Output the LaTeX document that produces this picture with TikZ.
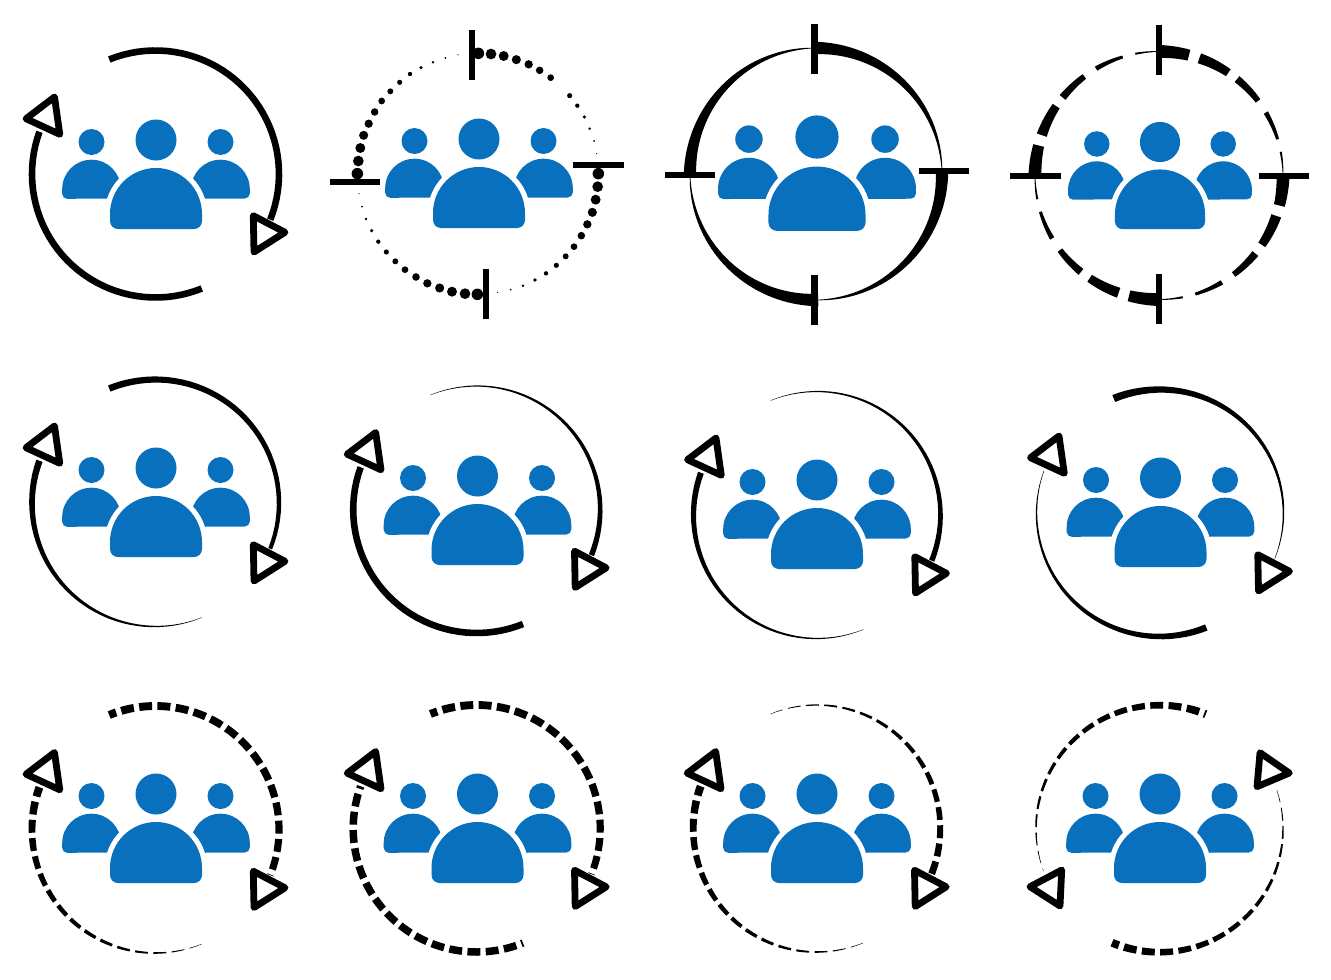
\documentclass[tikz,border=0pt]{standalone}
\definecolor{peopleblue}{HTML}{0870BC}
\tikzset{
  tickbar/.style={black,line width=6.6pt,line cap=butt},
  tribox/.style={draw=black,fill=white,line width=6.8pt,line join=round},
  bluefill/.style={fill=peopleblue,draw=none},
  halo/.style={draw=white,line width=10.4pt,fill=none}
}
% tapered arc around the current origin: R, a1, a2, w1, w2
\newcommand{\tarc}[6][40]{%
  \fill[black] plot[domain=#3:#4,samples=#1,variable=\t]
    ({(#2+((#5)+((#6)-(#5))*(\t-(#3))/((#4)-(#3)))/2)*cos(\t)},{(#2+((#5)+((#6)-(#5))*(\t-(#3))/((#4)-(#3)))/2)*sin(\t)})
    -- plot[domain=#4:#3,samples=#1,variable=\t]
    ({(#2-((#5)+((#6)-(#5))*(\t-(#3))/((#4)-(#3)))/2)*cos(\t)},{(#2-((#5)+((#6)-(#5))*(\t-(#3))/((#4)-(#3)))/2)*sin(\t)})
    -- cycle;%
}
% dashed tapered arc: R,a1,a2,w1,w2,period,dash,phase
\newcommand{\darc}[8]{%
  \pgfmathsetmacro{\dtot}{abs((#3)-(#2))}%
  \pgfmathsetmacro{\ddir}{((#3)>(#2))?1:-1}%
  \foreach \i in {0,...,40}{%
    \pgfmathsetmacro{\tA}{max(\i*#6-(#8),0)}%
    \pgfmathsetmacro{\tB}{min(\i*#6-(#8)+#7,\dtot)}%
    \pgfmathparse{(\tA<\tB-0.05)?1:0}%
    \ifnum\pgfmathresult=1
      \pgfmathsetmacro{\aA}{(#2)+\ddir*\tA}%
      \pgfmathsetmacro{\aB}{(#2)+\ddir*\tB}%
      \pgfmathsetmacro{\wA}{(#4)+((#5)-(#4))*\tA/\dtot}%
      \pgfmathsetmacro{\wB}{(#4)+((#5)-(#4))*\tB/\dtot}%
      \tarc[5]{#1}{\aA}{\aB}{\wA}{\wB}%
    \fi
  }%
}
% the three figures; head of the centre figure at hx,hy (pixels), scale s
\newcommand{\people}[3]{%
  \begin{scope}[shift={(#1,-#2)},scale=#3]
    \foreach \sx in {-64.5,64.5}{%
      \fill[bluefill] (\sx,-2) circle[radius=13];
      \fill[bluefill] (\sx-29.3,-49) arc[start angle=180,end angle=0,radius=29.3]
        -- (\sx+29.3,-53.5) arc[start angle=0,end angle=-90,radius=5]
        -- (\sx-24.3,-58.8) arc[start angle=270,end angle=180,radius=5] -- cycle;
    }
    \draw[halo] (-46,-74) arc[start angle=180,end angle=0,radius=46]
      -- (46,-81) arc[start angle=0,end angle=-90,radius=8]
      -- (-38,-89) arc[start angle=270,end angle=180,radius=8] -- cycle;
    \fill[bluefill] (0,0) circle[radius=20.5];
    \fill[bluefill] (-46,-74) arc[start angle=180,end angle=0,radius=46]
      -- (46,-81) arc[start angle=0,end angle=-90,radius=8]
      -- (-38,-89) arc[start angle=270,end angle=180,radius=8] -- cycle;
  \end{scope}%
}
\newcommand{\tris}{%
  \draw[tribox] (97.8,-41.7) -- (129.5,-58.3) -- (98.5,-78) -- cycle;
  \draw[tribox] (-101,77) -- (-129.5,55.3) -- (-95.7,39.7) -- cycle;
}
\newcommand{\solidicon}[6]{% cx,cy, top w1,w2, bottom w1,w2
  \begin{scope}[shift={(#1,-#2)}]
    \tarc{123.5}{112}{-21.7}{#3}{#4}
    \tarc{123.5}{-68}{-200}{#5}{#6}
    \tris
  \end{scope}%
}
\newcommand{\dashicon}[8]{% cx,cy, top w1,w2,phase, bottom w1,w2,phase
  \begin{scope}[shift={(#1,-#2)}]
    \darc{123.5}{112}{-21.7}{#3}{#4}{8.5}{6}{#5}
    \darc{123.5}{-68}{-200}{#6}{#7}{8.5}{6}{#8}
    \tris
  \end{scope}%
}
\begin{document}
\begin{tikzpicture}[x=1pt,y=1pt]
\useasboundingbox (0,0) rectangle (1331,-980);
\fill[white] (0,0) rectangle (1331,-980);

% ---- row 1 ----
\solidicon{155.5}{174}{6.6}{6.6}{6.6}{6.6}
\people{156}{140}{1}

% dotted target
\foreach \px/\py [count=\i from 0] in {475/100,513/102,551/108,589/119,626/133,659/151,692/173,749/227,772/257,793/291,809/326,822/363,830/401}{
  \pgfmathsetmacro{\dd}{11.5-10.3*(\i+(\i>6?1:0))/13}
  \fill[black] ({320+\px/3},{-20-\py/3}) circle[radius=\dd/2];
}
\foreach \px/\py [count=\i from 0] in {835/461,833/500,827/539,817/577,802/613,784/647,762/680,737/709,709/736,678/760,645/780,609/797,572/809,533/817}{
  \pgfmathsetmacro{\dd}{11.5-10.3*\i/13}
  \fill[black] ({320+\px/3},{-20-\py/3}) circle[radius=\dd/2];
}
\foreach \px/\py [count=\i from 0] in {472/823,435/821,396/815,359/804,322/790,288/771,255/749,226/724,199/696,175/665,155/632,138/597,126/560,117/521}{
  \pgfmathsetmacro{\dd}{11.5-10.3*\i/13}
  \fill[black] ({320+\px/3},{-20-\py/3}) circle[radius=\dd/2];
}
\foreach \px/\py [count=\i from 0] in {112/461,115/423,121/384,131/346,146/311,164/276,185/243,211/214,239/187,270/162,303/143,339/127,376/114,414/104}{
  \pgfmathsetmacro{\dd}{11.5-10.3*\i/13}
  \fill[black] ({320+\px/3},{-20-\py/3}) circle[radius=\dd/2];
}
\draw[tickbar] (472,-30) -- (472,-80);
\draw[tickbar] (330,-182) -- (380,-182);
\draw[tickbar] (573,-165) -- (624,-165);
\draw[tickbar] (486,-269) -- (486,-319);
\people{479}{139}{1}

% tapered target
\begin{scope}[shift={(816,-174)}]
  \tarc{126}{91}{1}{12.5}{0.6}
  \tarc{126}{1}{-89}{12.5}{0.6}
  \tarc{126}{-89}{-179}{12.5}{0.6}
  \tarc{126}{-179}{-269}{12.5}{0.6}
\end{scope}
\draw[tickbar] (814.3,-24) -- (814.3,-74);
\draw[tickbar] (918.7,-171) -- (969,-171);
\draw[tickbar] (665,-175) -- (715,-175);
\draw[tickbar] (814.3,-275.3) -- (814.3,-325);
\people{817}{137}{1.055}

% dashed tapered target
\begin{scope}[shift={(1159,-175.5)}]
  \foreach \q in {0,90,180,270}{
    \foreach \da/\db in {0/14,19/34,39/53,59.5/73,79/90}{
      \pgfmathsetmacro{\aA}{90-\q-\da}
      \pgfmathsetmacro{\aB}{90-\q-\db}
      \pgfmathsetmacro{\wA}{13-12.4*\da/90}
      \pgfmathsetmacro{\wB}{13-12.4*\db/90}
      \tarc[8]{124}{\aA}{\aB}{\wA}{\wB}
    }
  }
\end{scope}
\draw[tickbar] (1159,-25) -- (1159,-75);
\draw[tickbar] (1159,-274) -- (1159,-324);
\draw[tickbar] (1010,-176) -- (1060.7,-176);
\draw[tickbar] (1259,-176) -- (1309,-176);
\people{1160}{142}{0.98}

% ---- row 2 ----
\solidicon{155.5}{503}{6.6}{4}{0.3}{6.6}
\people{156}{468}{1}
\solidicon{476.7}{509.5}{0.3}{5.5}{6.6}{6.6}
\people{477.5}{476}{1}
\solidicon{817}{515}{0.3}{5.5}{0.3}{6}
\people{817}{480}{1}
\solidicon{1160}{513}{7.5}{0.4}{6.6}{0.4}
\people{1160.5}{478}{1}

% ---- row 3 ----
\dashicon{155.5}{829.5}{8}{7}{2.6}{0.3}{8}{0}
\people{156}{794}{1}
\dashicon{476.7}{828.5}{8}{7}{2.6}{7.5}{7.5}{5.2}
\people{477.5}{794}{1}
\dashicon{816.7}{828.5}{0.3}{7}{0}{0.3}{8}{0}
\people{817}{794}{1}
\begin{scope}[shift={(1159.5,-828.7)}]
  \darc{123.5}{68}{200}{8}{0.3}{8.5}{6}{5.2}
  \darc{123.5}{-112.6}{19}{8}{0.3}{8.5}{6}{2.6}
  \draw[tribox] (100.5,76) -- (129.8,55.7) -- (97.5,42) -- cycle;
  \draw[tribox] (-97.8,-41.3) -- (-129.5,-58) -- (-99.5,-77.3) -- cycle;
\end{scope}
\people{1160}{794}{1}
\end{tikzpicture}
\end{document}
